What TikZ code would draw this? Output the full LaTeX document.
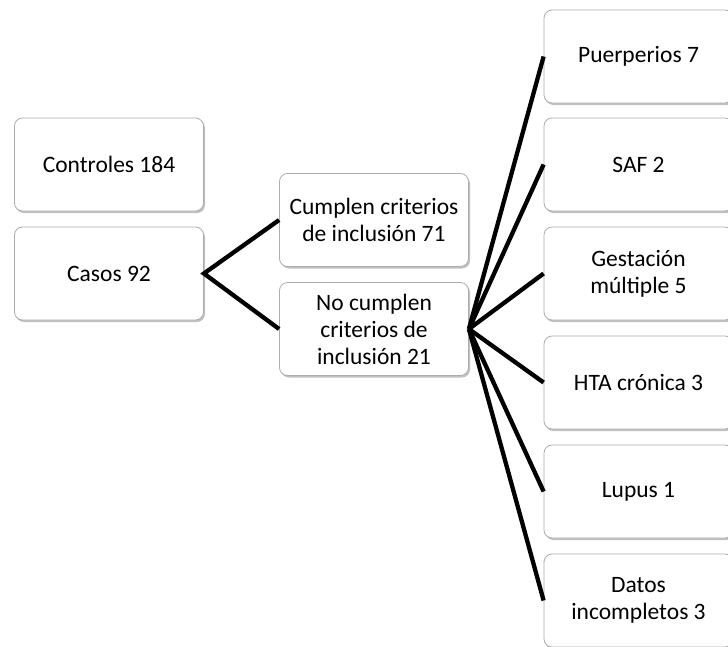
\documentclass[tikz,border=0pt]{standalone}
\usepackage{fontspec}
\setmainfont{Carlito}
\usetikzlibrary{shadows}

\begin{document}
\begin{tikzpicture}[x=1pt, y=-1pt,
  caja/.style={draw=gray!65, fill=white, rounded corners=8pt, line width=0.8pt,
    minimum width=189pt, minimum height=93pt, align=center, inner sep=2pt,
    font=\fontsize{23.5}{27}\selectfont,
    drop shadow={shadow xshift=1.5pt, shadow yshift=-2pt, fill=gray!70, opacity=0.7}},
  rama/.style={line width=4.3pt, black}]

\useasboundingbox (0,0) rectangle (728,646);
\clip (0,0) rectangle (728,646);

% === Left column ===
\node[caja] (controles) at (109,164.5) {Controles 184};
\node[caja] (casos) at (109,273.5) {Casos 92};

% === Middle column ===
\node[caja] (cumplen) at (374,220) {Cumplen criterios\\de inclusión 71};
\node[caja] (nocumplen) at (374,329) {No cumplen\\criterios de\\inclusión 21};

% === Right column ===
\node[caja] (puerperios) at (638.5,56.5) {Puerperios 7};
\node[caja] (saf) at (638.5,164.5) {SAF 2};
\node[caja] (gestacion) at (638.5,273.5) {Gestación\\múltiple 5};
\node[caja] (hta) at (638.5,382.5) {HTA crónica 3};
\node[caja] (lupus) at (638.5,491.5) {Lupus 1};
\node[caja] (datos) at (638.5,600.5) {Datos\\incompletos 3};

% === Connectors ===
\draw[rama] (cumplen.west) -- (casos.east) -- (nocumplen.west);
\draw[rama] (nocumplen.east) -- (puerperios.west);
\draw[rama] (nocumplen.east) -- (saf.west);
\draw[rama] (nocumplen.east) -- (gestacion.west);
\draw[rama] (nocumplen.east) -- (hta.west);
\draw[rama] (nocumplen.east) -- (lupus.west);
\draw[rama] (nocumplen.east) -- (datos.west);

\end{tikzpicture}
\end{document}
